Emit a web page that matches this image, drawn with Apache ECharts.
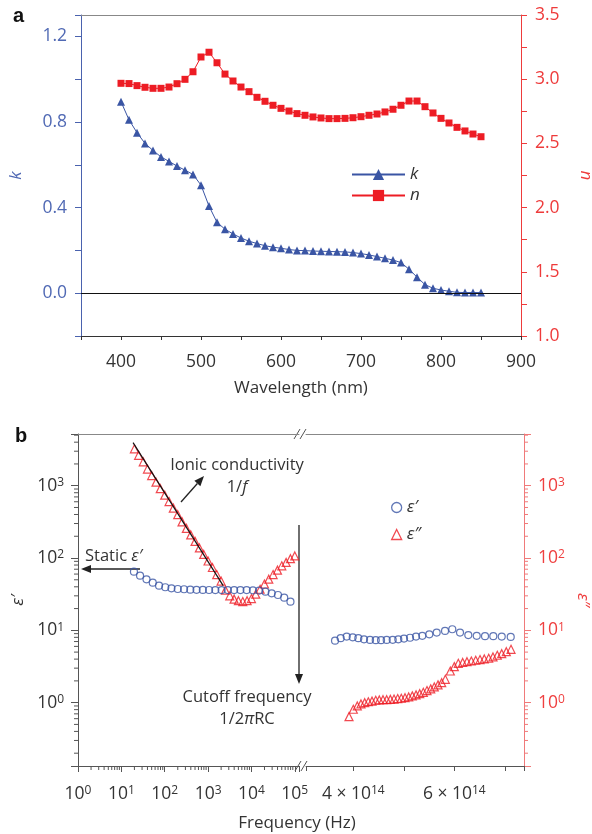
<!DOCTYPE html>
<html>
<head>
<meta charset="utf-8">
<script src="https://cdn.jsdelivr.net/npm/echarts@6/dist/echarts.min.js"></script>
<style>
html, body { margin: 0; padding: 0; background: #fff; }
#chart { width: 592px; height: 834px; }
</style>
</head>
<body>
<div id="chart"></div>
<script>
// ---- panel a : optical constants ----
const wavelength = [400, 410, 420, 430, 440, 450, 460, 470, 480, 490, 500, 510, 520, 530, 540, 550,
  560, 570, 580, 590, 600, 610, 620, 630, 640, 650, 660, 670, 680, 690, 700, 710, 720, 730, 740,
  750, 760, 770, 780, 790, 800, 810, 820, 830, 840, 850];
const kValues = [0.895, 0.81, 0.75, 0.70, 0.667, 0.637, 0.616, 0.594, 0.575, 0.555, 0.505, 0.407,
  0.331, 0.299, 0.277, 0.258, 0.243, 0.232, 0.222, 0.215, 0.210, 0.204, 0.200, 0.199, 0.197, 0.196,
  0.195, 0.194, 0.193, 0.190, 0.185, 0.179, 0.171, 0.163, 0.155, 0.143, 0.112, 0.075, 0.040, 0.023,
  0.015, 0.009, 0.004, 0.003, 0.003, 0.003];
const nValues = [2.968, 2.966, 2.950, 2.937, 2.929, 2.929, 2.939, 2.965, 2.999, 3.058, 3.173, 3.210,
  3.128, 3.040, 2.986, 2.939, 2.903, 2.859, 2.828, 2.797, 2.773, 2.752, 2.732, 2.719, 2.706, 2.698,
  2.693, 2.693, 2.695, 2.700, 2.708, 2.719, 2.729, 2.745, 2.766, 2.797, 2.830, 2.830, 2.786, 2.737,
  2.695, 2.659, 2.625, 2.597, 2.573, 2.552];

// ---- panel b : permittivity, low frequency part (Hz) ----
const lowFreqReal = [19.5, 27, 38, 53, 74, 103, 143, 200, 279, 389, 542, 757, 1054, 1469, 2051,
  2858, 3990, 5559, 7762, 10814, 15066, 21038, 29309, 40926, 57016, 79433];
const epsRealLow = [64.7, 57, 50.8, 45.6, 41.5, 39.4, 38.1, 37.3, 37, 36.5, 36.3, 36.2, 36.1, 36,
  36, 36, 36, 36, 36, 35.8, 35.5, 34.3, 32.5, 30.8, 28.3, 24.9];
const lowFreqImag = [20, 25, 32, 40, 50, 63, 79, 100, 126, 158, 200, 251, 316, 398, 501, 631, 794,
  1000, 1259, 1585, 1995, 2512, 3162, 3981, 5012, 6310, 7943, 10000, 12589, 15849, 19953, 25119,
  31623, 39811, 50119, 63096, 79433, 100000];
const epsImagLow = [3236, 2630, 2140, 1700, 1380, 1120, 912, 741, 603, 490, 398, 316, 257, 209, 170,
  138, 112, 91, 74, 59, 48, 36, 30, 27, 25.7, 25, 25.7, 27.5, 31.6, 37, 43.7, 51, 59, 68, 78, 87,
  98, 107];
// 1/f guide line
const fitFreq = [18.6, 2230];
const fitEps = [3940, 41.5];

// ---- panel b : optical frequency part (units of 1e14 Hz) ----
const highFreqReal = [3.638, 3.75, 3.869, 3.988, 4.099, 4.212, 4.331, 4.444, 4.549, 4.661, 4.780,
  4.891, 5.004, 5.123, 5.242, 5.366, 5.505, 5.651, 5.816, 5.960, 6.113, 6.277, 6.444, 6.608, 6.772,
  6.939, 7.117];
const epsRealHigh = [7.2, 7.8, 8.2, 8.0, 7.8, 7.5, 7.36, 7.3, 7.3, 7.36, 7.4, 7.5, 7.7, 7.9, 8.2,
  8.4, 8.8, 9.3, 9.8, 10.35, 9.3, 8.6, 8.4, 8.3, 8.3, 8.2, 8.1];
const highFreqImag = [3.915, 4.0, 4.079, 4.152, 4.226, 4.297, 4.370, 4.444, 4.515, 4.588, 4.661,
  4.733, 4.806, 4.879, 4.950, 5.024, 5.097, 5.168, 5.242, 5.315, 5.386, 5.459, 5.533, 5.604, 5.677,
  5.750, 5.822, 5.921, 6.0, 6.079, 6.166, 6.251, 6.337, 6.424, 6.509, 6.594, 6.681, 6.766, 6.851,
  6.939, 7.030, 7.123];
const epsImagHigh = [0.64, 0.81, 0.90, 0.96, 1.0, 1.03, 1.05, 1.08, 1.09, 1.10, 1.10, 1.11, 1.12,
  1.14, 1.15, 1.17, 1.2, 1.24, 1.28, 1.33, 1.39, 1.47, 1.55, 1.65, 1.76, 1.89, 2.1, 2.74, 3.15, 3.5,
  3.6, 3.69, 3.77, 3.86, 3.94, 4.02, 4.11, 4.29, 4.52, 4.76, 5.07, 5.47];

const FONT = 'Open Sans';
const BLUE = '#3a55a4';
const RED = '#ed1c24';
const DARK = '#333';
const TICK_FS = 17.5;
const TEXT_FS = 16.5;

const pair = (xs, ys) => xs.map((x, i) => [x, ys[i]]);

// log minor ticks (2..9 per decade)
const yMinor = [];
for (let d = -1; d <= 3; d++) {
  for (let m = 2; m <= 9; m++) {
    const v = m * Math.pow(10, d);
    if (v > 0.133 && v < 5190) yMinor.push(v);
  }
}
const xMinor = [];
for (let d = 0; d <= 4; d++) {
  for (let m = 2; m <= 9; m++) xMinor.push(m * Math.pow(10, d));
}

function powLabel(v) {
  const e = Math.log10(v);
  const r = Math.round(e);
  if (Math.abs(e - r) > 1e-6) return '';
  return '10{s|' + r + '}';
}
const supRich = { s: { fontSize: 12, verticalAlign: 'top', fontFamily: FONT } };

function tickY(side, color) {
  return function (params, api) {
    const cs = params.coordSys;
    const y = api.coord([api.value(0), api.value(1)])[1];
    const x0 = side === 'left' ? cs.x : cs.x + cs.width;
    const dx = side === 'left' ? -4 : 4;
    return { type: 'line', shape: { x1: x0, y1: y, x2: x0 + dx, y2: y },
      style: { stroke: color, lineWidth: 1 } };
  };
}
function tickX(params, api) {
  const cs = params.coordSys;
  const x = api.coord([api.value(0), api.value(1)])[0];
  const y0 = cs.y + cs.height;
  return { type: 'line', shape: { x1: x, y1: y0, x2: x, y2: y0 + 4 },
    style: { stroke: '#555', lineWidth: 1 } };
}

function arrow(x1, y1, x2, y2) {
  const a = Math.atan2(y2 - y1, x2 - x1);
  const L = 10, W = 4;
  const bx = x2 - L * Math.cos(a), by = y2 - L * Math.sin(a);
  const px = -Math.sin(a) * W, py = Math.cos(a) * W;
  return [
    { type: 'line', shape: { x1: x1, y1: y1, x2: bx, y2: by }, style: { stroke: '#222', lineWidth: 1.3 } },
    { type: 'polygon', shape: { points: [[x2, y2], [bx + px, by + py], [bx - px, by - py]] }, style: { fill: '#222' } }
  ];
}
function slash(x, y) {
  return { type: 'line', shape: { x1: x - 3, y1: y + 5, x2: x + 3, y2: y - 5 }, style: { stroke: '#555', lineWidth: 1 } };
}
function note(x, y, text, align) {
  return { type: 'text', x: x, y: y, style: { text: text, font: TEXT_FS + 'px "Open Sans"', fill: DARK,
    align: align || 'center', verticalAlign: 'middle',
    rich: { i: { fontStyle: 'italic', fontSize: TEXT_FS, fontFamily: FONT, fill: DARK } } } };
}

const topLine = (grid, type, min, max) => ({
  gridIndex: grid, type: type, min: min, max: max, position: 'top',
  axisLine: { onZero: false, lineStyle: { color: '#888', width: 1 } }, axisTick: { show: false },
  axisLabel: { show: false }, splitLine: { show: false }
});

const chart = echarts.init(document.getElementById('chart'), null, { renderer: 'canvas' });
chart.setOption({
  animation: false,
  backgroundColor: '#fff',
  textStyle: { fontFamily: FONT },
  grid: [
    { left: 81, top: 15, width: 440, height: 321, outerBoundsMode: 'none', containLabel: false },
    { left: 78, top: 434, width: 221, height: 332, outerBoundsMode: 'none', containLabel: false },
    { left: 306, top: 434, width: 218, height: 332, outerBoundsMode: 'none', containLabel: false }
  ],
  legend: [
    { data: ['k', 'n'], orient: 'vertical', left: 346, top: 161, itemWidth: 53, itemHeight: 14, itemGap: 4,
      textStyle: { fontStyle: 'italic', fontSize: 17, color: DARK, fontFamily: FONT } },
    { data: ['ε′', 'ε″'], orient: 'vertical', left: 386, top: 494, itemWidth: 10, itemHeight: 10, itemGap: 10,
      itemStyle: { borderWidth: 1.3 },
      textStyle: { fontStyle: 'italic', fontSize: 17, color: DARK, fontFamily: FONT } }
  ],
  xAxis: [
    { gridIndex: 0, type: 'value', min: 350, max: 900, interval: 50, position: 'bottom',
      axisLine: { onZero: false, lineStyle: { color: DARK, width: 1 } },
      axisTick: { length: 4, lineStyle: { color: DARK } },
      axisLabel: { margin: 17, color: DARK, fontSize: TICK_FS, formatter: v => (v % 100 === 0 ? String(v) : '') },
      splitLine: { show: false },
      name: 'Wavelength (nm)', nameLocation: 'middle', nameGap: 44,
      nameTextStyle: { fontSize: 17, color: DARK } },
    topLine(0, 'value', 350, 900),
    { gridIndex: 1, type: 'log', logBase: 10, min: 1, max: 125000, position: 'bottom',
      axisLine: { onZero: false, lineStyle: { color: '#555', width: 1 } },
      axisTick: { length: 6, lineStyle: { color: '#555' } },
      axisLabel: { margin: 19, color: DARK, fontSize: TICK_FS, formatter: powLabel, rich: supRich },
      splitLine: { show: false } },
    topLine(1, 'log', 1, 125000),
    { gridIndex: 2, type: 'value', min: 3.063, max: 7.38, position: 'bottom',
      axisLine: { onZero: false, lineStyle: { color: '#555', width: 1 } },
      axisTick: { length: 5, lineStyle: { color: '#555' } },
      axisLabel: { margin: 19, color: DARK, fontSize: TICK_FS, rich: supRich,
        formatter: v => (Math.abs(v - 4) < 1e-9 ? '4 × 10{s|14}' : Math.abs(v - 6) < 1e-9 ? '6 × 10{s|14}' : '') },
      splitLine: { show: false } },
    topLine(2, 'value', 3.063, 7.38)
  ],
  yAxis: [
    { gridIndex: 0, type: 'value', min: -0.2, max: 1.3, interval: 0.2, position: 'left',
      axisLine: { show: true, onZero: false, lineStyle: { color: '#4a62ae', width: 1 } },
      axisTick: { length: 6, lineStyle: { color: '#4a62ae' } },
      axisLabel: { margin: 14, color: '#5069b4', fontSize: TICK_FS,
        formatter: v => (Math.abs(v) < 1e-9 ? '0.0' : (v > 0 && Math.round(v * 10) % 4 === 0 ? v.toFixed(1) : '')) },
      splitLine: { show: false },
      name: 'k', nameLocation: 'middle', nameGap: 56,
      nameTextStyle: { fontStyle: 'italic', fontSize: 17, color: '#5069b4' } },
    { gridIndex: 0, type: 'value', min: 1, max: 3.5, interval: 0.25, position: 'right',
      axisLine: { show: true, onZero: false, lineStyle: { color: '#ee3b3b', width: 1 } },
      axisTick: { length: 6, lineStyle: { color: '#ee3b3b' } },
      axisLabel: { margin: 14, color: '#ee3b3b', fontSize: TICK_FS,
        formatter: v => (Math.round(v * 4) % 2 === 0 ? v.toFixed(1) : '') },
      splitLine: { show: false },
      name: 'n', nameLocation: 'middle', nameGap: 56, nameRotate: -90,
      nameTextStyle: { fontStyle: 'italic', fontSize: 17, color: '#ee3b3b' } },
    { gridIndex: 1, type: 'log', logBase: 10, min: 0.133, max: 5190, position: 'left',
      axisLine: { show: true, onZero: false, lineStyle: { color: '#555', width: 1 } },
      axisTick: { length: 7, lineStyle: { color: '#555' } },
      axisLabel: { margin: 14, color: DARK, fontSize: TICK_FS, formatter: powLabel, rich: supRich },
      splitLine: { show: false },
      name: 'ε′', nameLocation: 'middle', nameGap: 51,
      nameTextStyle: { fontStyle: 'italic', fontSize: 17, color: DARK } },
    { gridIndex: 2, type: 'log', logBase: 10, min: 0.133, max: 5190, position: 'right',
      axisLine: { show: true, onZero: false, lineStyle: { color: '#f07a7a', width: 1 } },
      axisTick: { length: 7, lineStyle: { color: '#f07a7a' } },
      axisLabel: { margin: 14, color: '#ef4040', fontSize: TICK_FS, formatter: powLabel, rich: supRich },
      splitLine: { show: false },
      name: 'ε″', nameLocation: 'middle', nameGap: 50, nameRotate: -90,
      nameTextStyle: { fontStyle: 'italic', fontSize: 17, color: '#ef4040' } }
  ],
  series: [
    { name: 'k', type: 'line', xAxisIndex: 0, yAxisIndex: 0, data: pair(wavelength, kValues),
      symbol: 'triangle', symbolSize: 8, itemStyle: { color: BLUE }, lineStyle: { color: BLUE, width: 1 },
      markLine: { silent: true, symbol: 'none', label: { show: false },
        lineStyle: { color: '#111', width: 1.2, type: 'solid' }, data: [{ yAxis: 0 }] } },
    { name: 'n', type: 'line', xAxisIndex: 0, yAxisIndex: 1, data: pair(wavelength, nValues),
      symbol: 'rect', symbolSize: 7, itemStyle: { color: RED }, lineStyle: { color: RED, width: 1 } },

    { name: 'ε″', type: 'scatter', xAxisIndex: 2, yAxisIndex: 2, data: pair(lowFreqImag, epsImagLow),
      symbol: 'triangle', symbolSize: 8, itemStyle: { color: 'rgba(255,255,255,0)', borderColor: RED, borderWidth: 1.2 } },
    { name: 'ε′', type: 'scatter', xAxisIndex: 2, yAxisIndex: 2, data: pair(lowFreqReal, epsRealLow),
      symbol: 'circle', symbolSize: 7, itemStyle: { color: 'rgba(255,255,255,0)', borderColor: BLUE, borderWidth: 1.2 } },
    { name: 'fit', type: 'line', xAxisIndex: 2, yAxisIndex: 2, data: pair(fitFreq, fitEps),
      symbol: 'none', lineStyle: { color: '#111', width: 1.2 } },
    { name: 'ε″', type: 'scatter', xAxisIndex: 4, yAxisIndex: 3, data: pair(highFreqImag, epsImagHigh),
      symbol: 'triangle', symbolSize: 8, itemStyle: { color: 'rgba(255,255,255,0)', borderColor: RED, borderWidth: 1.2 } },
    { name: 'ε′', type: 'scatter', xAxisIndex: 4, yAxisIndex: 3, data: pair(highFreqReal, epsRealHigh),
      symbol: 'circle', symbolSize: 7, itemStyle: { color: 'rgba(255,255,255,0)', borderColor: BLUE, borderWidth: 1.2 } },

    { type: 'custom', xAxisIndex: 2, yAxisIndex: 2, silent: true, data: yMinor.map(v => [1, v]), renderItem: tickY('left', '#555') },
    { type: 'custom', xAxisIndex: 4, yAxisIndex: 3, silent: true, data: yMinor.map(v => [4, v]), renderItem: tickY('right', '#f07a7a') },
    { type: 'custom', xAxisIndex: 2, yAxisIndex: 2, silent: true, data: xMinor.map(v => [v, 1]), renderItem: tickX }
  ],
  graphic: [
    { type: 'text', left: 13, top: 6, style: { text: 'a', font: 'bold 20px "Liberation Sans"', fill: '#111' } },
    { type: 'text', left: 15, top: 426, style: { text: 'b', font: 'bold 20px "Liberation Sans"', fill: '#111' } },
    note(237, 465, 'Ionic conductivity'),
    note(237, 487, '1/{i|f}'),
    note(85, 556, 'Static {i|ε′}', 'left'),
    note(247, 697, 'Cutoff frequency'),
    note(247, 719, '1/2{i|π}RC'),
    { type: 'text', x: 297, y: 823, style: { text: 'Frequency (Hz)', font: '17px "Open Sans"', fill: DARK, align: 'center', verticalAlign: 'middle' } },
    ...arrow(181, 502, 204, 476),
    ...arrow(140, 569, 81, 569),
    ...arrow(299, 525, 299, 684),
    slash(297, 434), slash(303, 434), slash(298, 766), slash(304, 766)
  ]
});
</script>
</body>
</html>
